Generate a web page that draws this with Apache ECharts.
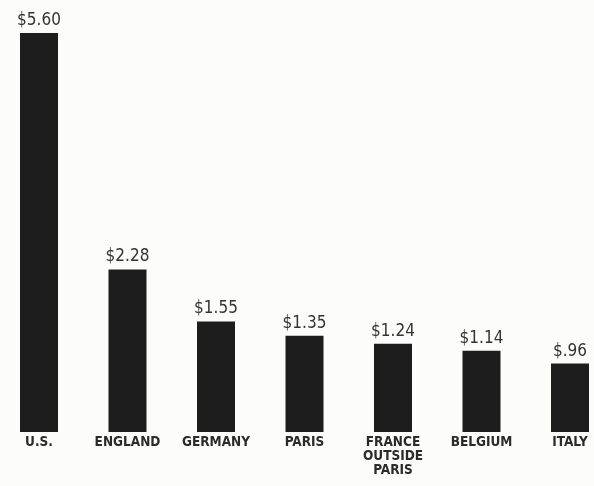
<!DOCTYPE html>
<html>
<head>
<meta charset="utf-8">
<script src="https://cdn.jsdelivr.net/npm/echarts@6/dist/echarts.min.js"></script>
<style>
html, body { margin: 0; padding: 0; background: #fcfcfb; }
#chart { width: 594px; height: 486px; }
</style>
</head>
<body>
<div id="chart"></div>
<script>
// categories and values
var countries = ['U.S.', 'ENGLAND', 'GERMANY', 'PARIS', 'FRANCE\nOUTSIDE\nPARIS', 'BELGIUM', 'ITALY'];
var amounts = [5.60, 2.28, 1.55, 1.35, 1.24, 1.14, 0.96];
var amountLabels = ['$5.60', '$2.28', '$1.55', '$1.35', '$1.24', '$1.14', '$.96'];

var chart = echarts.init(document.getElementById('chart'));

var option = {
    backgroundColor: '#fcfcfb',
    animation: false,
    grid: {
        left: 39,
        right: 24,
        top: 33,
        bottom: 54
    },
    xAxis: {
        type: 'category',
        data: countries,
        boundaryGap: false,
        axisLine: { show: false },
        axisTick: { show: false },
        axisLabel: {
            interval: 0,
            margin: 3,
            color: '#2b2b2b',
            fontFamily: 'DejaVu Sans Condensed',
            fontWeight: 'bold',
            fontSize: 13.5,
            lineHeight: 14
        }
    },
    yAxis: {
        type: 'value',
        min: 0,
        max: 5.6,
        show: false,
        splitLine: { show: false }
    },
    series: [
        {
            type: 'bar',
            data: amounts,
            barWidth: 38,
            clip: false,
            itemStyle: { color: '#1d1d1d' },
            label: {
                show: true,
                position: 'top',
                distance: 4,
                color: '#333333',
                fontFamily: 'DejaVu Sans Condensed',
                fontSize: 17,
                formatter: function (p) {
                    return amountLabels[p.dataIndex];
                }
            }
        }
    ]
};
chart.setOption(option);
</script>
</body>
</html>
